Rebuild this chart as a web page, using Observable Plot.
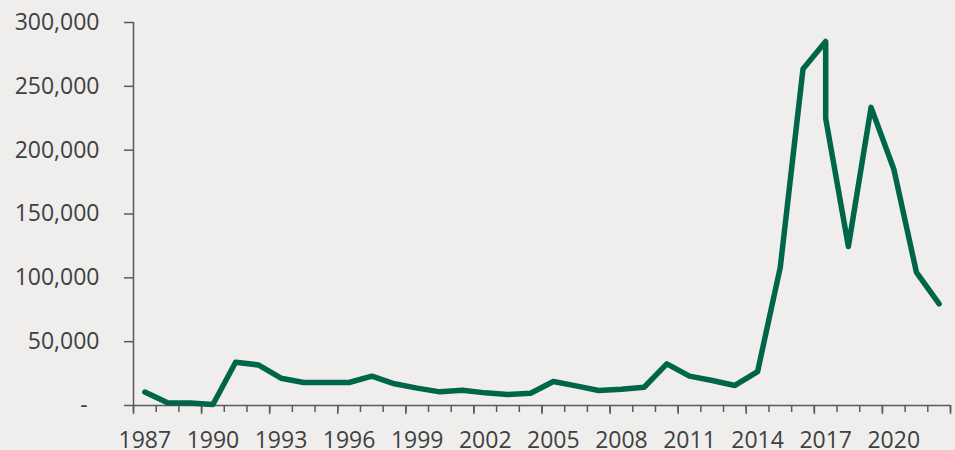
<!DOCTYPE html>
<html>
<head>
<meta charset="utf-8">
<script src="https://cdn.jsdelivr.net/npm/d3@7"></script>
<script src="https://cdn.jsdelivr.net/npm/@observablehq/plot@0.6"></script>
<style>
  html, body { margin: 0; padding: 0; background: #efeeec; }
  #chart svg { display: block; background: #efeeec; }
</style>
</head>
<body>
<div id="chart"></div>
<script>
// Years (2017 appears twice: two values reported for that year)
const years = [1987, 1988, 1989, 1990, 1991, 1992, 1993, 1994, 1995, 1996,
  1997, 1998, 1999, 2000, 2001, 2002, 2003, 2004, 2005, 2006,
  2007, 2008, 2009, 2010, 2011, 2012, 2013, 2014, 2015, 2016,
  2017, 2017, 2018, 2019, 2020, 2021, 2022];
const values = [10500, 2100, 2000, 800, 33900, 31800, 21400, 18000, 18000, 18000,
  23000, 17000, 13600, 10700, 12000, 9900, 8600, 9600, 18800, 15400,
  11700, 12800, 14300, 32600, 23000, 19600, 15700, 26600, 108300, 263500,
  285100, 224900, 124500, 233500, 185300, 104300, 79600];
const xTickYears = [1987, 1990, 1993, 1996, 1999, 2002, 2005, 2008, 2011, 2014, 2017, 2020];
const yTicks = [0, 50000, 100000, 150000, 200000, 250000, 300000];

const data = years.map((y, i) => ({year: y, value: values[i]}));
const boundaries = d3.range(1986.5, 2023, 1);
const majorBoundaries = boundaries.filter(b => (b - 1986.5) % 3 === 0);

const axisColor = "#595959";
const textColor = "#404040";

const chart = Plot.plot({
  width: 955,
  height: 450,
  marginLeft: 133,
  marginRight: 5,
  marginTop: 22,
  marginBottom: 45,
  style: {background: "#efeeec", fontFamily: "'Open Sans', sans-serif", fontSize: "23px", color: textColor},
  x: {domain: [1986.5, 2022.5]},
  y: {domain: [0, 300000]},
  marks: [
    Plot.axisY({ticks: yTicks, tickSize: 9, tickPadding: 25, stroke: axisColor, strokeWidth: 1.5,
      fill: textColor, fontSize: 23, label: null,
      tickFormat: d => d === 0 ? "-\u00a0\u00a0" : d3.format(",")(d)}),
    Plot.axisX({ticks: boundaries, tickSize: 7, text: null, stroke: axisColor, strokeWidth: 1.5, label: null}),
    Plot.axisX({ticks: majorBoundaries, tickSize: 9, text: null, stroke: axisColor, strokeWidth: 1.5, label: null}),
    Plot.axisX({ticks: xTickYears, tickSize: 0, tickPadding: 26, fill: textColor, fontSize: 23,
      tickFormat: d => String(d), label: null}),
    Plot.ruleX([1986.5], {y1: 0, y2: 300000, stroke: axisColor, strokeWidth: 1.5}),
    Plot.ruleY([0], {stroke: axisColor, strokeWidth: 1.5}),
    Plot.line(data, {x: "year", y: "value", stroke: "#00664a", strokeWidth: 5.5,
      strokeLinejoin: "round", strokeLinecap: "round"})
  ]
});
document.getElementById("chart").appendChild(chart);
</script>
</body>
</html>
